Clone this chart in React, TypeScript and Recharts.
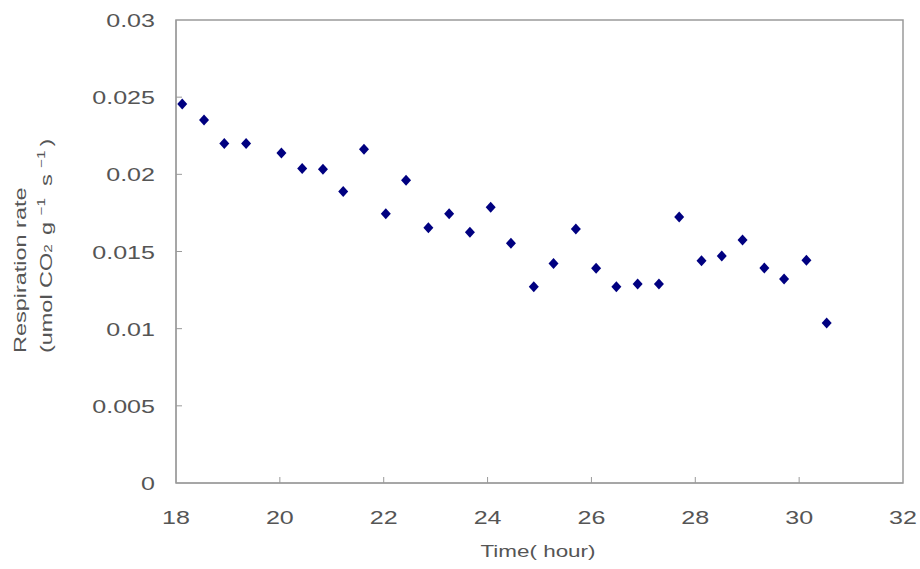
import { ScatterChart, Scatter, XAxis, YAxis, ReferenceArea } from "recharts";

// hours since start and respiration rate
const TIME = [
  18.12, 18.54, 18.93, 19.35, 20.03, 20.43, 20.83, 21.22, 21.62, 22.04, 22.43,
  22.86, 23.26, 23.66, 24.06, 24.45, 24.89, 25.27, 25.7, 26.09, 26.48, 26.89,
  27.3, 27.69, 28.12, 28.51, 28.91, 29.33, 29.71, 30.14, 30.53,
];
const RATE = [
  0.02456, 0.02352, 0.022, 0.022, 0.02138, 0.02038, 0.02033, 0.01888, 0.02162, 0.01745, 0.01961,
  0.01654, 0.01745, 0.01624, 0.01786, 0.01553, 0.01272, 0.01423, 0.01646, 0.01391, 0.01272, 0.01289,
  0.01289, 0.01724, 0.0144, 0.01471, 0.01575, 0.01393, 0.01322, 0.01443, 0.01037,
];
const X_TICKS = [18, 20, 22, 24, 26, 28, 30, 32];
const Y_TICKS = [0, 0.005, 0.01, 0.015, 0.02, 0.025, 0.03];

const data = TIME.map((t, i) => ({ t, r: RATE[i] }));

const FONT = "'Liberation Sans', Arial, sans-serif";
const TEXT = "#555";
const LINE = "#9a9a9a";
const SX = 1.32; // the source text is drawn wide

const YTick = (p: any) => (
  <g>
    {p.payload.value > 0 && p.payload.value < 0.03 && (
      <line x1={p.x} x2={p.x + 6} y1={p.y} y2={p.y} stroke={LINE} />
    )}
    <g transform={`translate(${p.x - 21},${p.y + 7}) scale(${SX},1)`}>
      <text textAnchor="end" fontSize={19} fill={TEXT} fontFamily={FONT}>{String(p.payload.value)}</text>
    </g>
  </g>
);

const XTick = (p: any) => (
  <g>
    {p.payload.value > 18 && p.payload.value < 32 && (
      <line x1={p.x} x2={p.x} y1={p.y} y2={p.y - 6} stroke={LINE} />
    )}
    <g transform={`translate(${p.x},${p.y + 41}) scale(${SX},1)`}>
      <text textAnchor="middle" fontSize={19} fill={TEXT} fontFamily={FONT}>{p.payload.value}</text>
    </g>
  </g>
);

const Diamond = (p: any) => (
  <path
    d={`M${p.cx},${p.cy - 5.5}L${p.cx + 5},${p.cy}L${p.cx},${p.cy + 5.5}L${p.cx - 5},${p.cy}Z`}
    fill="#000080"
  />
);

export default function App() {
  return (
    <div style={{ width: 920, height: 569, background: "#fff" }}>
      <style>{"body{margin:0}"}</style>
      <ScatterChart width={920} height={569} margin={{ top: 20, right: 17, bottom: 0, left: 0 }}>
        <XAxis
          type="number"
          dataKey="t"
          domain={[18, 32]}
          ticks={X_TICKS}
          interval={0}
          height={86}
          tickSize={0}
          tickMargin={0}
          tickLine={false}
          axisLine={{ stroke: LINE }}
          tick={XTick}
        />
        <YAxis
          type="number"
          dataKey="r"
          domain={[0, 0.03]}
          ticks={Y_TICKS}
          interval={0}
          width={176}
          tickSize={0}
          tickMargin={0}
          tickLine={false}
          axisLine={{ stroke: LINE }}
          tick={YTick}
        />
        <ReferenceArea x1={18} x2={32} y1={0} y2={0.03} fill="none" stroke={LINE} strokeWidth={1.5} />
        <Scatter data={data} shape={Diamond} isAnimationActive={false} />
        {/* axis titles */}
        <g transform={`translate(538,557) scale(${SX},1)`}>
          <text textAnchor="middle" fontSize={17} fill={TEXT} fontFamily={FONT}>Time( hour)</text>
        </g>
        <g transform={`translate(26,353) rotate(-90) scale(1.38,1)`}>
          <text textAnchor="start" fontSize={17} fill={TEXT} fontFamily={FONT}>Respiration rate</text>
        </g>
        <g transform={`translate(52,353) rotate(-90) scale(1.38,1)`}>
          <text textAnchor="start" fontSize={17} fill={TEXT} fontFamily={FONT}>
            (umol CO<tspan fontSize={11}>2</tspan>
            <tspan dx={2}> g </tspan>
            <tspan fontSize={11} dy={-7}>−1</tspan>
            <tspan dy={7} dx={4}> s </tspan>
            <tspan fontSize={11} dy={-7}>−1</tspan>
            <tspan dy={7} dx={3}>)</tspan>
          </text>
        </g>
      </ScatterChart>
    </div>
  );
}
